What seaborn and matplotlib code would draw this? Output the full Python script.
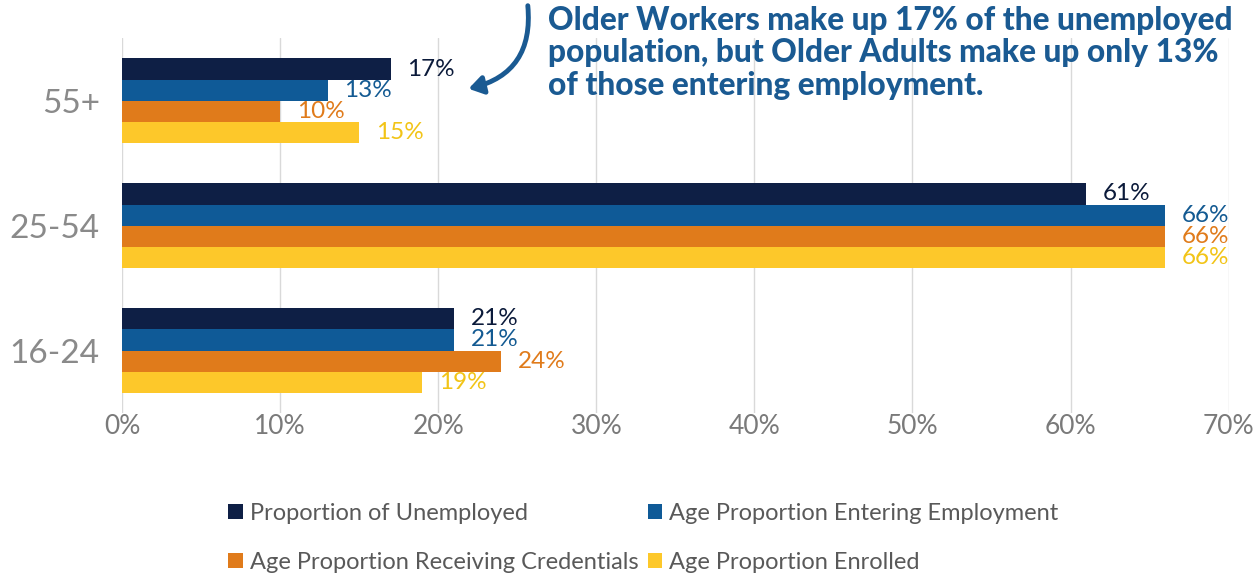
import matplotlib
matplotlib.use("Agg")
import matplotlib.pyplot as plt
from matplotlib.patches import Patch
import seaborn as sns
import pandas as pd

age_groups = ["55+", "25-54", "16-24"]
series_names = [
    "Proportion of Unemployed",
    "Age Proportion Entering Employment",
    "Age Proportion Receiving Credentials",
    "Age Proportion Enrolled",
]
unemployed = [17, 61, 21]
entering_employment = [13, 66, 21]
receiving_credentials = [10, 66, 24]
enrolled = [15, 66, 19]
x_ticks = [0, 10, 20, 30, 40, 50, 60, 70]

bar_colors = ["#0e1f45", "#0f5a97", "#e07b1b", "#fdc82a"]
label_colors = ["#0b1a3a", "#135a92", "#e07b1b", "#f2c417"]

rows = []
for name, vals in zip(series_names,
                      [unemployed, entering_employment, receiving_credentials, enrolled]):
    for grp, v in zip(age_groups, vals):
        rows.append({"age": grp, "series": name, "value": v})
df = pd.DataFrame(rows)

sns.set_theme(style="white")
plt.rcParams["font.family"] = ["Lato", "DejaVu Sans"]

fig = plt.figure(figsize=(12.59, 5.88), dpi=100)
ax = fig.add_axes([0.0969, 0.2976, 0.879, 0.637])

sns.barplot(data=df, y="age", x="value", hue="series", order=age_groups,
            hue_order=series_names, palette=bar_colors, orient="h",
            width=0.68, saturation=1, legend=False, linewidth=0, ax=ax)

for cont, col in zip(ax.containers, label_colors):
    ax.bar_label(cont, labels=[f"{v:.0f}%" for v in cont.datavalues],
                 padding=12, color=col, fontsize=17.5)

ax.set_xlim(0, 70)
ax.set_ylim(2.5, -0.5)
ax.set_xticks(x_ticks)
ax.set_xticklabels([f"{t}%" for t in x_ticks])
ax.set_xlabel("")
ax.set_ylabel("")
ax.grid(axis="x", color="#d9d9d9", linewidth=1)
ax.set_axisbelow(True)
for s in ax.spines.values():
    s.set_visible(False)
ax.tick_params(axis="x", labelsize=19, labelcolor="#7a7a7a", pad=1, length=0)
ax.tick_params(axis="y", labelsize=24, labelcolor="#8a8a8a", pad=16, length=0)

fig.text(0.4355, 0.99,
         "Older Workers make up 17% of the unemployed\n"
         "population, but Older Adults make up only 13%\n"
         "of those entering employment.",
         fontsize=22.8, fontweight="black", color="#1a5a92",
         ha="left", va="top", linespacing=1.15)

ax.annotate("", xy=(0.370, 0.848), xycoords="figure fraction",
            xytext=(0.419, 0.995), textcoords="figure fraction",
            arrowprops=dict(arrowstyle="-|>,head_length=0.7,head_width=0.45",
                            color="#1a5a92", lw=3.5,
                            connectionstyle="arc3,rad=-0.45"))

# legend filled row by row: two entries per row
legend_order = [0, 2, 1, 3]
handles = [Patch(facecolor=bar_colors[i], edgecolor="none") for i in legend_order]
labels = [series_names[i] for i in legend_order]
fig.legend(handles, labels, loc="center", bbox_to_anchor=(0.511, 0.085),
           ncol=2, frameon=False, fontsize=17, handlelength=0.6, handleheight=0.6,
           handletextpad=0.3, columnspacing=0.4, labelspacing=1.2,
           labelcolor="#595959")

fig.savefig("out.png", dpi=100, facecolor="white")
